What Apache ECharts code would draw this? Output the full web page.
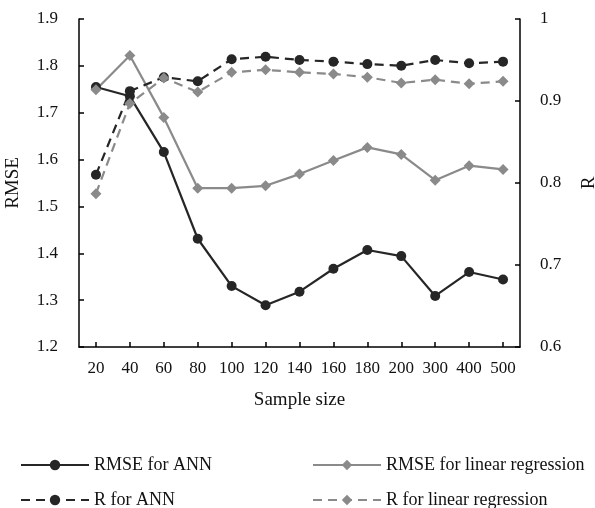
<!DOCTYPE html>
<html>
<head>
<meta charset="utf-8">
<script src="https://cdn.jsdelivr.net/npm/echarts@6/dist/echarts.min.js"></script>
<style>
  html, body { margin: 0; padding: 0; background: #fff; }
  #main { width: 595px; height: 508px; }
</style>
</head>
<body>
<div id="main"></div>
<script>
var sampleSizes = ['20', '40', '60', '80', '100', '120', '140', '160', '180', '200', '300', '400', '500'];
var rmseAnn = [1.755, 1.735, 1.616, 1.431, 1.330, 1.289, 1.318, 1.367, 1.407, 1.394, 1.309, 1.360, 1.344];
var rmseLr = [1.749, 1.822, 1.690, 1.539, 1.539, 1.544, 1.569, 1.598, 1.626, 1.611, 1.556, 1.587, 1.579];
var rAnn = [0.810, 0.912, 0.929, 0.924, 0.951, 0.954, 0.950, 0.948, 0.945, 0.943, 0.950, 0.946, 0.948];
var rLr = [0.787, 0.897, 0.928, 0.911, 0.935, 0.938, 0.935, 0.933, 0.929, 0.922, 0.926, 0.921, 0.924];

var dark = '#262626';
var grey = '#8a8a8a';
var font = 'Liberation Serif';

var myChart = echarts.init(document.getElementById('main'));

function legendAt(name, left, top) {
    return {
        data: [name],
        left: left,
        top: top,
        padding: 0,
        itemWidth: 68,
        itemHeight: 13,
        itemGap: 8,
        textStyle: { fontFamily: font, fontSize: 18, color: '#111' }
    };
}

var axisLine = { show: true, lineStyle: { color: '#000', width: 1.5 } };

option = {
    animation: false,
    backgroundColor: '#fff',
    grid: { left: 79, right: 75, top: 19, bottom: 161, outerBoundsMode: 'none', containLabel: false },
    legend: [
        legendAt('RMSE for ANN', 20, 456),
        legendAt('RMSE for linear regression', 312, 456),
        legendAt('R for ANN', 20, 491),
        legendAt('R for linear regression', 312, 491)
    ],
    xAxis: {
        type: 'category',
        data: sampleSizes,
        boundaryGap: true,
        name: 'Sample size',
        nameLocation: 'middle',
        nameGap: 44,
        nameTextStyle: { fontFamily: font, fontSize: 19, color: '#111' },
        axisLine: axisLine,
        axisTick: { show: true, inside: true, alignWithLabel: true, length: 5, lineStyle: { color: '#000', width: 1.5 } },
        axisLabel: { fontFamily: font, fontSize: 17, color: '#111', margin: 13, interval: 0 }
    },
    yAxis: [
        {
            type: 'value',
            min: 1.2,
            max: 1.9,
            interval: 0.1,
            name: 'RMSE',
            nameLocation: 'middle',
            nameRotate: 90,
            nameGap: 56,
            nameTextStyle: { fontFamily: font, fontSize: 19, color: '#111' },
            axisLine: axisLine,
            axisTick: { show: true, inside: true, length: 5, lineStyle: { color: '#000', width: 1.5 } },
            axisLabel: { fontFamily: font, fontSize: 17, color: '#111', margin: 21,
                formatter: function (v) { return v.toFixed(1); } },
            splitLine: { show: false }
        },
        {
            type: 'value',
            min: 0.6,
            max: 1,
            interval: 0.1,
            position: 'right',
            name: 'R',
            nameLocation: 'middle',
            nameRotate: 90,
            nameGap: 60,
            nameTextStyle: { fontFamily: font, fontSize: 19, color: '#111' },
            axisLine: axisLine,
            axisTick: { show: true, inside: true, length: 5, lineStyle: { color: '#000', width: 1.5 } },
            axisLabel: { fontFamily: font, fontSize: 17, color: '#111', margin: 20,
                formatter: function (v) { return v === 1 ? '1' : v.toFixed(1); } },
            splitLine: { show: false }
        }
    ],
    series: [
        {
            name: 'RMSE for ANN',
            type: 'line',
            yAxisIndex: 0,
            data: rmseAnn,
            symbol: 'circle',
            symbolSize: 10,
            itemStyle: { color: dark },
            lineStyle: { color: dark, width: 2.2 }
        },
        {
            name: 'RMSE for linear regression',
            type: 'line',
            yAxisIndex: 0,
            data: rmseLr,
            symbol: 'diamond',
            symbolSize: 11,
            itemStyle: { color: grey },
            lineStyle: { color: grey, width: 2.2 }
        },
        {
            name: 'R for ANN',
            type: 'line',
            yAxisIndex: 1,
            data: rAnn,
            symbol: 'circle',
            symbolSize: 10,
            itemStyle: { color: dark },
            lineStyle: { color: dark, width: 2.2, type: [9, 6] }
        },
        {
            name: 'R for linear regression',
            type: 'line',
            yAxisIndex: 1,
            data: rLr,
            symbol: 'diamond',
            symbolSize: 11,
            itemStyle: { color: grey },
            lineStyle: { color: grey, width: 2.2, type: [9, 6] }
        }
    ]
};

// use configuration item and data specified to show chart
myChart.setOption(option);
</script>
</body>
</html>
